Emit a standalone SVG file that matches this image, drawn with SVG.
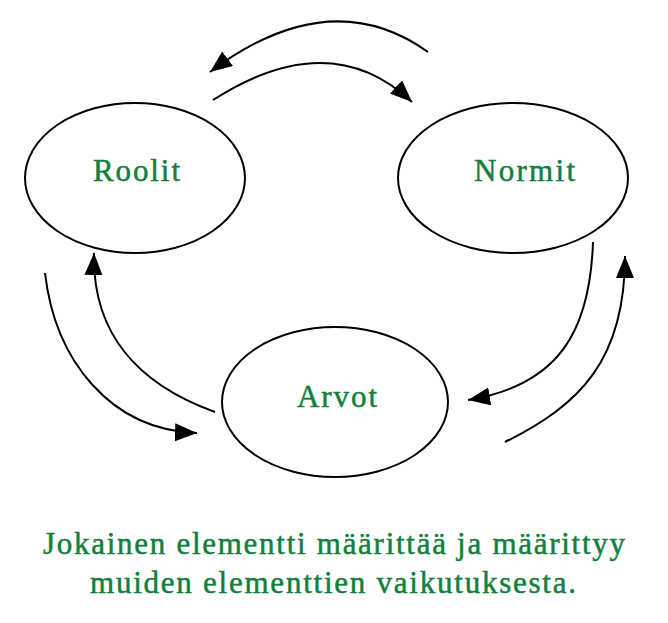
<svg xmlns="http://www.w3.org/2000/svg" width="668" height="623" viewBox="0 0 668 623">
<style>
.node ellipse{fill:#ffffff;stroke:#000000;stroke-width:2}
.lbl{font-family:"Liberation Serif","DejaVu Serif",serif;font-size:31px;fill:#11803c;stroke:#11803c;stroke-width:0.5}
.conn path{fill:none;stroke:#000000;stroke-width:2}
</style>
<defs>
<marker id="ah" markerUnits="userSpaceOnUse" markerWidth="24" markerHeight="20" refX="22" refY="9" orient="auto" viewBox="0 0 24 20">
<path d="M0,0 L22,9 L0,18 z" fill="#000000"/>
</marker>
</defs>
<rect width="668" height="623" fill="#ffffff"/>
<g id="roolit" class="node">
<ellipse cx="135" cy="178" rx="110" ry="75"/>
<text class="lbl" x="93" y="181" textLength="87" lengthAdjust="spacing">Roolit</text>
</g>
<g id="normit" class="node">
<ellipse cx="513" cy="178" rx="115" ry="75"/>
<text class="lbl" x="474" y="181" textLength="101" lengthAdjust="spacing">Normit</text>
</g>
<g id="arvot" class="node">
<ellipse cx="335" cy="402" rx="113" ry="75"/>
<text class="lbl" x="297" y="407" textLength="80" lengthAdjust="spacing">Arvot</text>
</g>
<g id="connectors" class="conn">
<path d="M428,52 Q330,-18 210,72" marker-end="url(#ah)"/>
<path d="M213,100 Q330,25 412,102" marker-end="url(#ah)"/>
<path d="M215,412 C140,385 92,335 94,253" marker-end="url(#ah)"/>
<path d="M45,273 C55,360 110,430 197,433" marker-end="url(#ah)"/>
<path d="M593,242 C590,330 560,385 468,400" marker-end="url(#ah)"/>
<path d="M505,442 C580,405 625,360 625,256" marker-end="url(#ah)"/>
</g>
<g id="caption">
<text class="lbl" x="43" y="554" textLength="582" lengthAdjust="spacing">Jokainen elementti määrittää ja määrittyy</text>
<text class="lbl" x="90" y="593" textLength="486" lengthAdjust="spacing">muiden elementtien vaikutuksesta.</text>
</g>
</svg>
